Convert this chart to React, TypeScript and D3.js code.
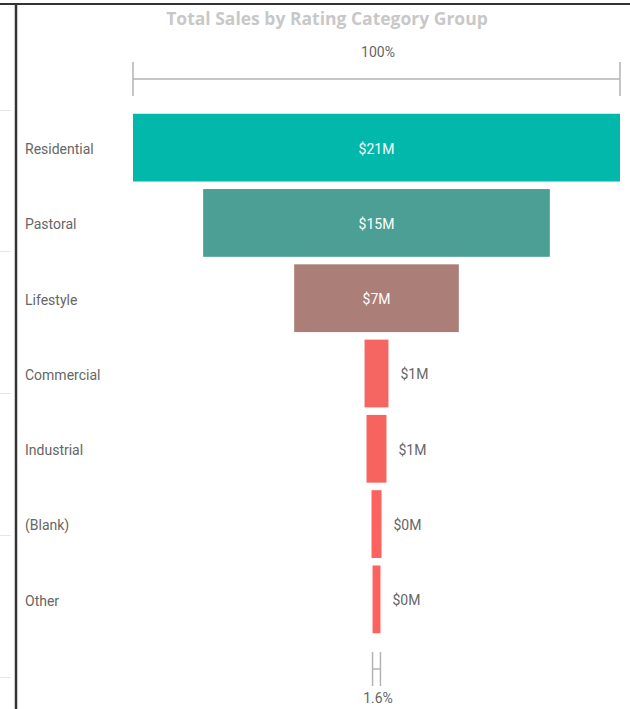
import React, { useEffect, useRef } from 'react';
import * as d3 from 'd3';

const categories = ['Residential', 'Pastoral', 'Lifestyle', 'Commercial', 'Industrial', '(Blank)', 'Other'];
const sales = [21.0, 14.95, 7.1, 1.03, 0.86, 0.43, 0.34];
const valueLabels = ['$21M', '$15M', '$7M', '$1M', '$1M', '$0M', '$0M'];
const topLabel = '100%';
const bottomLabel = '1.6%';
const title = 'Total Sales by Rating Category Group';

const W = 630;
const H = 709;

const App: React.FC = () => {
  const ref = useRef<SVGSVGElement | null>(null);

  useEffect(() => {
    if (!ref.current) return;
    const svg = d3.select(ref.current);
    svg.selectAll('*').remove();

    const font = 'Roboto, "DejaVu Sans", sans-serif';
    const cx = 376.5;
    const maxW = 487;

    const x = d3.scaleLinear().domain([0, d3.max(sales) as number]).range([0, maxW]);
    const y = d3.scaleBand<string>()
      .domain(categories)
      .range([110, 637])
      .paddingInner(0.1)
      .paddingOuter(0.05);
    const color = d3.scaleLinear<string>()
      .domain([d3.min(sales) as number, d3.max(sales) as number])
      .range(['#FD625E', '#01B8AA'])
      .interpolate(d3.interpolateRgb);

    // frame bits from the report canvas
    svg.append('rect').attr('x', 0).attr('y', 0).attr('width', W).attr('height', H).attr('fill', '#fff');
    svg.append('line').attr('x1', 0).attr('x2', W).attr('y1', 4).attr('y2', 4)
      .attr('stroke', '#333').attr('stroke-width', 2);
    svg.append('line').attr('x1', 16).attr('x2', 16).attr('y1', 3).attr('y2', H)
      .attr('stroke', '#333').attr('stroke-width', 2.5);
    [110, 251, 393, 535, 677].forEach(yy => {
      svg.append('line').attr('x1', 0).attr('x2', 11).attr('y1', yy + 0.5).attr('y2', yy + 0.5)
        .attr('stroke', '#e6e6e6').attr('stroke-width', 1);
    });

    svg.append('text')
      .attr('x', 327).attr('y', 25)
      .attr('text-anchor', 'middle')
      .attr('font-family', '"Open Sans", sans-serif')
      .attr('font-weight', 'bold')
      .attr('font-size', 17.5)
      .attr('fill', '#c8c8c8')
      .text(title);

    // top axis (100%)
    const axisColor = '#b3b3b3';
    const ax = svg.append('g').attr('stroke', axisColor).attr('stroke-width', 1.5);
    ax.append('line').attr('x1', cx - x(sales[0]) / 2).attr('x2', cx + x(sales[0]) / 2)
      .attr('y1', 79).attr('y2', 79);
    ax.append('line').attr('x1', cx - x(sales[0]) / 2).attr('x2', cx - x(sales[0]) / 2)
      .attr('y1', 62).attr('y2', 96);
    ax.append('line').attr('x1', cx + x(sales[0]) / 2).attr('x2', cx + x(sales[0]) / 2)
      .attr('y1', 62).attr('y2', 96);
    svg.append('text').attr('x', cx + 1.5).attr('y', 57)
      .attr('text-anchor', 'middle').attr('font-family', font).attr('font-size', 14)
      .attr('fill', '#666').text(topLabel);

    // bottom axis (last / first)
    const last = sales[sales.length - 1];
    const lw = x(last);
    const bx = svg.append('g').attr('stroke', axisColor).attr('stroke-width', 1.5);
    bx.append('line').attr('x1', cx - lw / 2).attr('x2', cx - lw / 2).attr('y1', 652).attr('y2', 686);
    bx.append('line').attr('x1', cx + lw / 2).attr('x2', cx + lw / 2).attr('y1', 652).attr('y2', 686);
    bx.append('line').attr('x1', cx - lw / 2).attr('x2', cx + lw / 2).attr('y1', 669).attr('y2', 669);
    svg.append('text').attr('x', cx + 1.5).attr('y', 703)
      .attr('text-anchor', 'middle').attr('font-family', font).attr('font-size', 14)
      .attr('fill', '#666').text(bottomLabel);

    // bars
    const g = svg.append('g');
    g.selectAll('rect.bar')
      .data(sales)
      .enter()
      .append('rect')
      .attr('class', 'bar')
      .attr('x', d => cx - x(d) / 2)
      .attr('y', (_, i) => y(categories[i]) as number)
      .attr('width', d => x(d))
      .attr('height', y.bandwidth())
      .attr('fill', d => color(d));

    // category labels
    g.selectAll('text.cat')
      .data(categories)
      .enter()
      .append('text')
      .attr('class', 'cat')
      .attr('x', 25)
      .attr('y', d => (y(d) as number) + y.bandwidth() / 2 + 1.5)
      .attr('dy', '0.35em')
      .attr('font-family', font)
      .attr('font-size', 14)
      .attr('fill', '#666')
      .text(d => d);

    // value labels
    g.selectAll('text.val')
      .data(sales)
      .enter()
      .append('text')
      .attr('class', 'val')
      .attr('x', d => (x(d) > 60 ? cx : cx + x(d) / 2 + 12))
      .attr('y', (_, i) => (y(categories[i]) as number) + y.bandwidth() / 2 + 1)
      .attr('dy', '0.35em')
      .attr('text-anchor', d => (x(d) > 60 ? 'middle' : 'start'))
      .attr('font-family', font)
      .attr('font-size', 14)
      .attr('fill', d => (x(d) > 60 ? '#fff' : '#666'))
      .text((_, i) => valueLabels[i]);
  }, []);

  return (
    <svg
      ref={ref}
      width={W}
      height={H}
      style={{ position: 'absolute', left: 0, top: 0, display: 'block' }}
    />
  );
};

export default App;
